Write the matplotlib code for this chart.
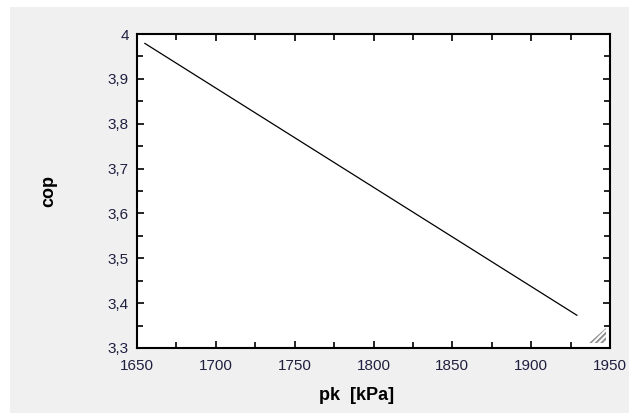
import matplotlib.pyplot as plt
from matplotlib.ticker import MultipleLocator, FuncFormatter
from matplotlib.patches import Rectangle, Polygon

plt.rcParams["font.family"] = ["Liberation Sans", "DejaVu Sans"]
plt.rcParams["hatch.linewidth"] = 1.4

pk = [1655, 1929]
cop = [3.979, 3.373]

fig = plt.figure(figsize=(6.29, 4.13), dpi=100, facecolor="white")
fig.patches.append(Rectangle((10 / 629, 0), 1, 1 - 7 / 413, transform=fig.transFigure,
                             facecolor="#f0f0f0", edgecolor="none", zorder=-10))

ax = fig.add_axes([137 / 629, 1 - 348 / 413, 473 / 629, 314 / 413])
ax.set_facecolor("white")
ax.plot(pk, cop, color="black", lw=0.9)

ax.set_xlim(1650, 1950)
ax.set_ylim(3.3, 4.0)
ax.xaxis.set_major_locator(MultipleLocator(50))
ax.xaxis.set_minor_locator(MultipleLocator(25))
ax.yaxis.set_major_locator(MultipleLocator(0.1))
ax.yaxis.set_minor_locator(MultipleLocator(0.05))
ax.yaxis.set_major_formatter(FuncFormatter(lambda v, p: f"{v:.1f}".rstrip("0").rstrip(".").replace(".", ",")))

ax.tick_params(which="both", direction="in", top=True, right=True, width=1.2, colors="black",
               labelcolor="#1f1f3f", labelsize=11)
ax.tick_params(which="major", length=5)
ax.tick_params(which="minor", length=4)
ax.tick_params(axis="x", pad=8)
ax.tick_params(axis="y", pad=6)
for s in ax.spines.values():
    s.set_linewidth(1.5)

ax.set_xlabel("pk  [kPa]", fontsize=13, fontweight="bold", labelpad=10)
ax.xaxis.set_label_coords(0.465, -0.125)
ax.set_ylabel("cop", fontsize=13, fontweight="bold", labelpad=36)

# resize-grip style mark in the lower right corner
ax.add_patch(Polygon([(0.9915, 0.064), (0.9915, 0.016), (0.955, 0.016)], closed=True,
                     transform=ax.transAxes, facecolor="none", edgecolor="#909090",
                     hatch="//////", lw=0))

fig.savefig("out.png", dpi=100, facecolor=fig.get_facecolor())
